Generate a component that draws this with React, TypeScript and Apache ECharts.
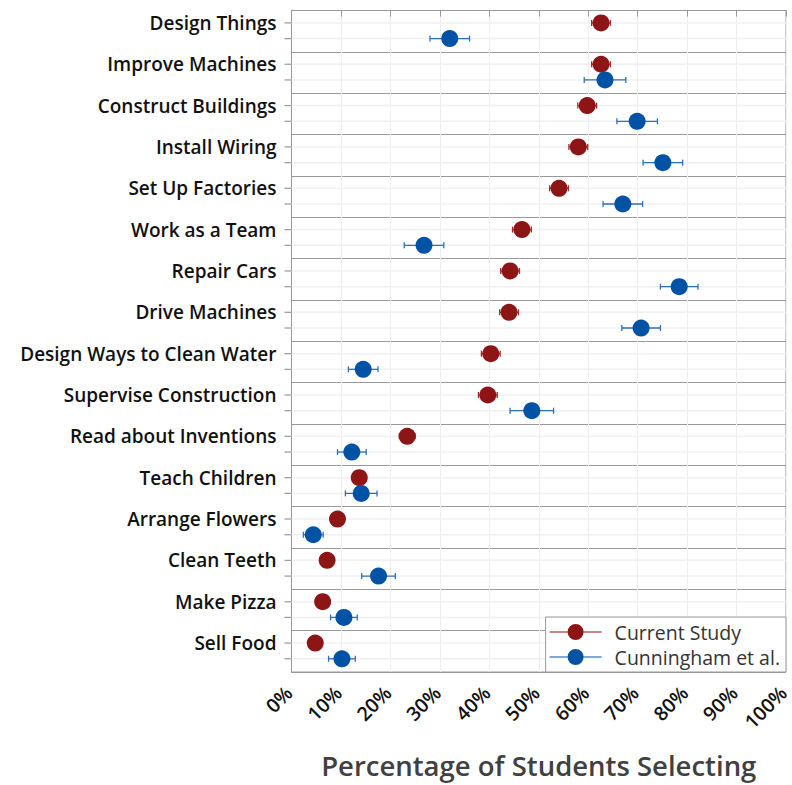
import React, { useEffect, useRef } from "react";
import * as echarts from "echarts";

const categories = [
  "Design Things",
  "Improve Machines",
  "Construct Buildings",
  "Install Wiring",
  "Set Up Factories",
  "Work as a Team",
  "Repair Cars",
  "Drive Machines",
  "Design Ways to Clean Water",
  "Supervise Construction",
  "Read about Inventions",
  "Teach Children",
  "Arrange Flowers",
  "Clean Teeth",
  "Make Pizza",
  "Sell Food",
];
const currentVals = [62.6, 62.6, 59.8, 58.0, 54.1, 46.6, 44.2, 44.0, 40.3, 39.7, 23.4, 13.7, 9.3, 7.2, 6.3, 4.8];
const currentErr = [1.9, 1.9, 1.9, 1.9, 1.9, 1.9, 1.9, 1.9, 1.9, 1.9, 1.6, 1.3, 1.1, 1.0, 0.9, 0.8];
const cunninghamVals = [32.0, 63.4, 69.9, 75.1, 67.0, 26.8, 78.4, 70.7, 14.5, 48.6, 12.2, 14.1, 4.4, 17.6, 10.6, 10.2];
const cunninghamErr = [4.0, 4.2, 4.1, 4.0, 4.0, 4.0, 3.8, 3.9, 3.0, 4.4, 2.9, 3.2, 2.0, 3.4, 2.7, 2.7];
const xTicks = [0, 10, 20, 30, 40, 50, 60, 70, 80, 90, 100];

const RED = "#8E1515";
const BLUE = "#0052A5";
const RED_OFF = 0.3;
const BLUE_OFF = 0.68;
const FONT = "'Open Sans', 'Noto Sans', sans-serif";

export default function App() {
  const ref = useRef<HTMLDivElement>(null);
  useEffect(() => {
    if (!ref.current) return;
    const chart = echarts.init(ref.current, null, { renderer: "svg" });

    const rows: number[][] = [];
    categories.forEach((_, i) => {
      rows.push([0, i + RED_OFF]);
      rows.push([0, i + BLUE_OFF]);
    });
    const labelRows = categories.map((_, i) => [0, i + RED_OFF]);
    const curPts = currentVals.map((v, i) => [v, i + RED_OFF]);
    const cunPts = cunninghamVals.map((v, i) => [v, i + BLUE_OFF]);
    const curErrData = currentVals.map((v, i) => [v - currentErr[i], v + currentErr[i], i + RED_OFF]);
    const cunErrData = cunninghamVals.map((v, i) => [v - cunninghamErr[i], v + cunninghamErr[i], i + BLUE_OFF]);

    const errRender = (color: string) => (params: any, api: any) => {
      const lo = api.coord([api.value(0), api.value(2)]);
      const hi = api.coord([api.value(1), api.value(2)]);
      const h = 3;
      const style = { stroke: color, lineWidth: 1.3 };
      return {
        type: "group",
        children: [
          { type: "line", shape: { x1: lo[0], y1: lo[1], x2: hi[0], y2: hi[1] }, style },
          { type: "line", shape: { x1: lo[0], y1: lo[1] - h, x2: lo[0], y2: lo[1] + h }, style },
          { type: "line", shape: { x1: hi[0], y1: hi[1] - h, x2: hi[0], y2: hi[1] + h }, style },
        ],
      };
    };

    const legendIcon =
      "path://M0,7.5 L18,7.5 L18,8.5 L0,8.5 Z M34,7.5 L52,7.5 L52,8.5 L34,8.5 Z M18,8 A8,8 0 1,1 34,8 A8,8 0 1,1 18,8 Z";

    chart.setOption({
      animation: false,
      grid: {
        left: 291.5,
        right: 6,
        top: 10.5,
        bottom: 113,
        show: true,
        borderColor: "#999",
        borderWidth: 1,
        backgroundColor: "transparent",
        outerBoundsMode: "none",
        containLabel: false,
      },
      legend: {
        data: [
          { name: "Current Study", icon: legendIcon },
          { name: "Cunningham et al.", icon: legendIcon },
        ],
        orient: "vertical",
        right: 6,
        bottom: 113,
        itemWidth: 52,
        itemHeight: 16,
        itemGap: 5,
        padding: [5, 6, 5, 4],
        backgroundColor: "#fff",
        borderColor: "#999",
        borderWidth: 1,
        textStyle: { fontSize: 19.5, color: "#333", fontFamily: FONT, padding: [0, 0, 0, 8] },
      },
      xAxis: {
        type: "value",
        min: 0,
        max: 100,
        interval: 10,
        name: "Percentage of Students Selecting",
        nameLocation: "middle",
        nameGap: 79,
        nameTextStyle: { fontSize: 27.5, lineHeight: 28, color: "#404040", fontFamily: FONT, fontWeight: 600 },
        axisLine: { show: true, lineStyle: { color: "#999", width: 1 } },
        axisTick: { show: true, length: 6, lineStyle: { color: "#999" } },
        axisLabel: {
          formatter: "{value}%",
          rotate: 45,
          fontSize: 19.5,
          lineHeight: 8,
          verticalAlign: "bottom",
          fontWeight: 600,
          color: "#111",
          fontFamily: FONT,
          margin: 20,
          customValues: xTicks,
        },
        splitLine: { show: true, lineStyle: { color: "#eeeeee", width: 1 } },
      },
      yAxis: {
        type: "value",
        min: 0,
        max: 16,
        interval: 1,
        inverse: true,
        axisLine: { show: true, lineStyle: { color: "#999" } },
        axisTick: { show: false },
        axisLabel: { show: false },
        splitLine: { show: true, lineStyle: { color: "#999", width: 1.2 } },
      },
      series: [
        {
          type: "custom",
          name: "rows",
          silent: true,
          data: rows,
          encode: { x: 0, y: 1 },
          z: 1,
          renderItem: (params: any, api: any) => {
            const p = api.coord([0, api.value(1)]);
            const cs = params.coordSys;
            return {
              type: "group",
              children: [
                {
                  type: "line",
                  shape: { x1: cs.x, y1: p[1], x2: cs.x + cs.width, y2: p[1] },
                  style: { stroke: "#f0f0f0", lineWidth: 1.5 },
                },
                {
                  type: "line",
                  shape: { x1: cs.x - 7, y1: p[1], x2: cs.x, y2: p[1] },
                  style: { stroke: "#999", lineWidth: 1.2 },
                },
              ],
            };
          },
        },
        {
          type: "custom",
          name: "labels",
          silent: true,
          data: labelRows,
          encode: { x: 0, y: 1 },
          z: 1,
          clip: false,
          renderItem: (params: any, api: any) => {
            const p = api.coord([0, api.value(1)]);
            const cs = params.coordSys;
            return {
              type: "text",
              x: cs.x - 15,
              y: p[1],
              style: {
                text: categories[params.dataIndex],
                align: "right",
                verticalAlign: "middle",
                fontSize: 19,
                fontWeight: 600,
                fill: "#111",
                fontFamily: FONT,
              },
            };
          },
        },
        {
          type: "custom",
          name: "curErr",
          data: curErrData,
          encode: { x: [0, 1], y: 2 },
          z: 2,
          renderItem: errRender("#a02a2a"),
        },
        {
          type: "custom",
          name: "cunErr",
          data: cunErrData,
          encode: { x: [0, 1], y: 2 },
          z: 2,
          renderItem: errRender("#2f6fba"),
        },
        {
          type: "scatter",
          name: "Current Study",
          data: curPts,
          symbol: "circle",
          symbolSize: 17,
          itemStyle: { color: RED, opacity: 1 },
          z: 3,
        },
        {
          type: "scatter",
          name: "Cunningham et al.",
          data: cunPts,
          symbol: "circle",
          symbolSize: 17,
          itemStyle: { color: BLUE, opacity: 1 },
          z: 3,
        },
      ],
    });
    return () => chart.dispose();
  }, []);
  return (
    <div
      ref={ref}
      style={{ position: "fixed", left: 0, top: 0, width: 792, height: 785, background: "#fff" }}
    />
  );
}
